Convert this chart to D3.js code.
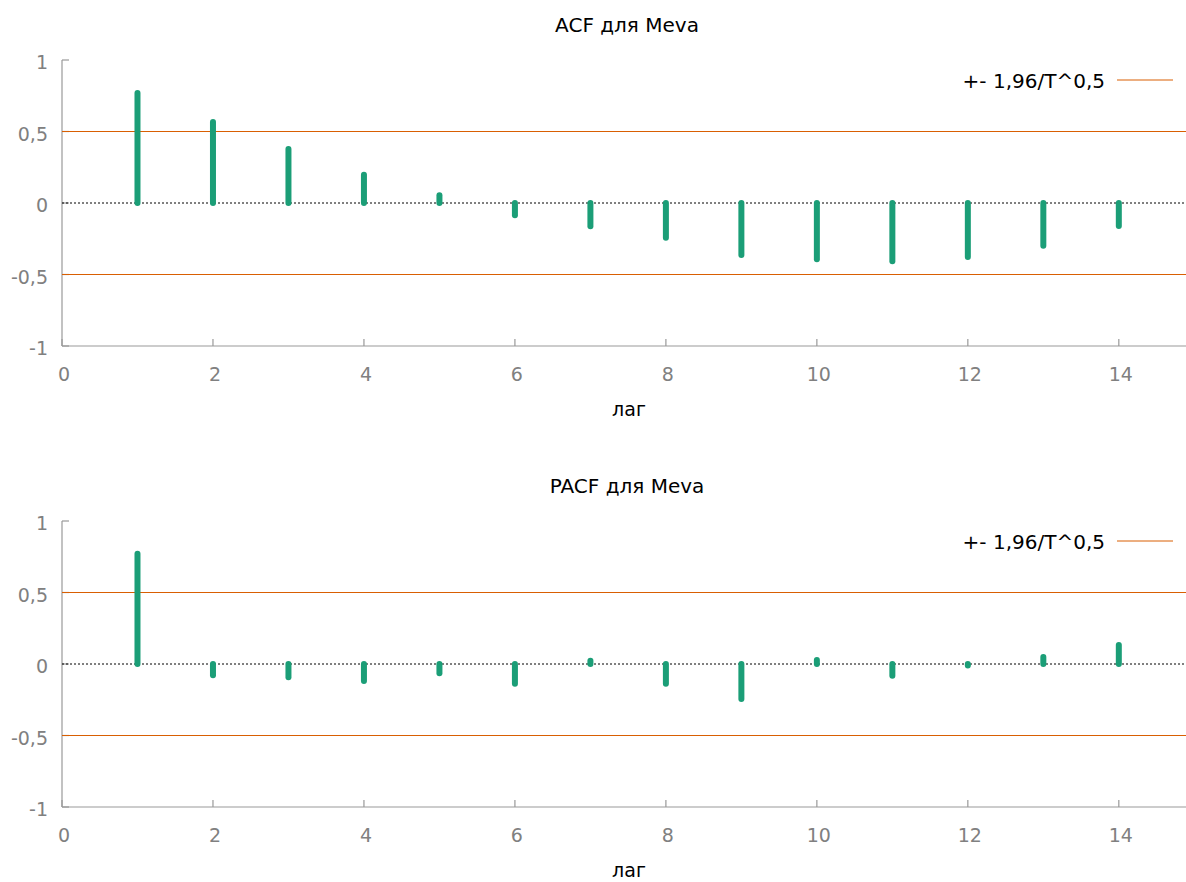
<!DOCTYPE html>
<html>
<head>
<meta charset="utf-8">
<script src="https://cdn.jsdelivr.net/npm/d3@7"></script>
<style>
  body { margin: 0; background: #fff; }
  svg { display: block; font-family: "DejaVu Sans", Verdana, sans-serif; }
</style>
</head>
<body>
<svg id="chart" width="1186" height="882"></svg>
<script>
// lags 1..14
const lags = [1, 2, 3, 4, 5, 6, 7, 8, 9, 10, 11, 12, 13, 14];
const acfValues = [0.77, 0.566, 0.378, 0.198, 0.054, -0.086, -0.163, -0.243, -0.364, -0.394, -0.408, -0.378, -0.299, -0.161];
const pacfValues = [0.771, -0.079, -0.093, -0.119, -0.065, -0.138, 0.023, -0.138, -0.245, 0.028, -0.082, -0.01, 0.049, 0.133];
const xTicks = [0, 2, 4, 6, 8, 10, 12, 14];
const yTicks = [-1, -0.5, 0, 0.5, 1];
const yTickLabels = ['-1', '-0,5', '0', '0,5', '1'];
const bandValue = 0.5; // 1,96/T^0,5
const legendLabel = '+- 1,96/T^0,5';
const xLabel = 'лаг';

const svg = d3.select('#chart');
const green = '#1b9e77', orange = '#d95f02', axisGray = '#999', textGray = '#808080';

const x = d3.scaleLinear().domain([0, 14.89]).range([62, 1186]);

function drawPanel(title, values, top) {
  const y = d3.scaleLinear().domain([-1, 1]).range([top + 286, top]);
  const g = svg.append('g');

  // title
  g.append('text')
    .attr('x', 627).attr('y', top - 28)
    .attr('text-anchor', 'middle')
    .attr('font-size', 20).attr('fill', '#000')
    .text(title);

  // axes (left and bottom only, ticks inward)
  g.append('line')
    .attr('x1', x(0)).attr('x2', x(0))
    .attr('y1', y(1)).attr('y2', y(-1))
    .attr('stroke', axisGray).attr('stroke-width', 1.2);
  g.append('line')
    .attr('x1', x(0)).attr('x2', 1186)
    .attr('y1', y(-1)).attr('y2', y(-1))
    .attr('stroke', axisGray).attr('stroke-width', 1.2);

  g.selectAll('.ytick').data(yTicks).enter().append('line')
    .attr('x1', x(0)).attr('x2', x(0) + 7)
    .attr('y1', d => y(d)).attr('y2', d => y(d))
    .attr('stroke', axisGray).attr('stroke-width', 1.2);
  g.selectAll('.ylab').data(yTicks).enter().append('text')
    .attr('x', 48).attr('y', d => y(d) + 9)
    .attr('text-anchor', 'end')
    .attr('font-size', 19).attr('fill', textGray)
    .text((d, i) => yTickLabels[i]);

  g.selectAll('.xtick').data(xTicks).enter().append('line')
    .attr('x1', d => x(d)).attr('x2', d => x(d))
    .attr('y1', y(-1)).attr('y2', y(-1) - 7)
    .attr('stroke', axisGray).attr('stroke-width', 1.2);
  g.selectAll('.xlab').data(xTicks).enter().append('text')
    .attr('x', d => x(d) + 2).attr('y', y(-1) + 35)
    .attr('text-anchor', 'middle')
    .attr('font-size', 19).attr('fill', textGray)
    .text(d => d);

  g.append('text')
    .attr('x', 629).attr('y', y(-1) + 70)
    .attr('text-anchor', 'middle')
    .attr('font-size', 19).attr('fill', '#000')
    .text(xLabel);

  // confidence band lines
  g.selectAll('.band').data([bandValue, -bandValue]).enter().append('line')
    .attr('x1', x(0)).attr('x2', 1186)
    .attr('y1', d => y(d)).attr('y2', d => y(d))
    .attr('stroke', orange).attr('stroke-width', 1);

  // zero line
  g.append('line')
    .attr('x1', x(0)).attr('x2', 1186)
    .attr('y1', y(0)).attr('y2', y(0))
    .attr('stroke', '#000').attr('stroke-width', 1)
    .attr('stroke-dasharray', '2,2');

  // stems
  g.selectAll('.stem').data(values).enter().append('line')
    .attr('x1', (d, i) => x(lags[i])).attr('x2', (d, i) => x(lags[i]))
    .attr('y1', y(0)).attr('y2', d => y(d))
    .attr('stroke', green).attr('stroke-width', 6)
    .attr('stroke-linecap', 'round');

  // legend
  g.append('text')
    .attr('x', 1105).attr('y', top + 28)
    .attr('text-anchor', 'end')
    .attr('font-size', 20).attr('fill', '#000')
    .text(legendLabel);
  g.append('line')
    .attr('x1', 1117).attr('x2', 1173)
    .attr('y1', top + 20).attr('y2', top + 20)
    .attr('stroke', orange).attr('stroke-width', 1);
}

drawPanel('ACF для Meva', acfValues, 60);
drawPanel('PACF для Meva', pacfValues, 521);
</script>
</body>
</html>
